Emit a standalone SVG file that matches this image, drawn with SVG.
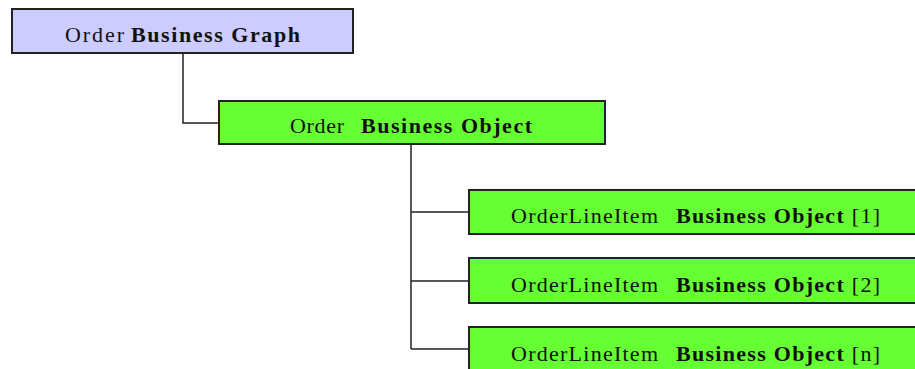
<svg xmlns="http://www.w3.org/2000/svg" width="915" height="369" viewBox="0 0 915 369">
<style>
.box{stroke:#222;stroke-width:2}
.g{fill:#CCCCFF}
.o{fill:#66FF33}
.t{font-family:"Liberation Serif",serif;font-size:22px;fill:#111}
.b{font-weight:bold}
.c{fill:none;stroke:#222;stroke-width:1.5}
</style>
<rect width="915" height="369" fill="#fff"/>
<g id="connectors">
<path class="c" d="M183,53 V123 H219"/>
<path class="c" d="M411,144 V349 M411,212 H469 M411,281 H469 M411,349 H469"/>
</g>
<g id="graph">
<rect class="box g" x="12" y="9" width="341" height="44"/>
<text class="t" x="65" y="42" textLength="59" lengthAdjust="spacing">Order</text>
<text class="t b" x="131" y="42" textLength="169" lengthAdjust="spacing">Business Graph</text>
</g>
<g id="order">
<rect class="box o" x="219" y="101" width="386" height="43"/>
<text class="t" x="290" y="133" textLength="54" lengthAdjust="spacing">Order</text>
<text class="t b" x="361" y="133" textLength="171" lengthAdjust="spacing">Business Object</text>
</g>
<g id="item1">
<rect class="box o" x="469" y="190" width="450" height="44"/>
<text class="t" x="511" y="223" textLength="147" lengthAdjust="spacing">OrderLineItem</text>
<text class="t" x="676" y="223" textLength="204" lengthAdjust="spacing"><tspan class="b">Business Object</tspan> [1]</text>
</g>
<g id="item2">
<rect class="box o" x="469" y="258" width="450" height="45"/>
<text class="t" x="511" y="292" textLength="147" lengthAdjust="spacing">OrderLineItem</text>
<text class="t" x="676" y="292" textLength="204" lengthAdjust="spacing"><tspan class="b">Business Object</tspan> [2]</text>
</g>
<g id="itemn">
<rect class="box o" x="469" y="327" width="450" height="50"/>
<text class="t" x="511" y="361" textLength="147" lengthAdjust="spacing">OrderLineItem</text>
<text class="t" x="676" y="361" textLength="204" lengthAdjust="spacing"><tspan class="b">Business Object</tspan> [n]</text>
</g>
</svg>
